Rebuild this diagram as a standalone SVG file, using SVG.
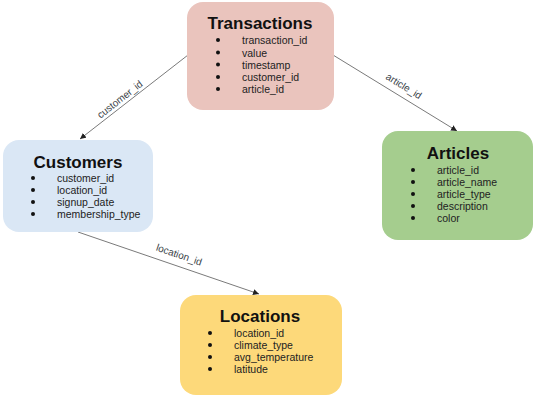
<svg xmlns="http://www.w3.org/2000/svg" width="538" height="400" viewBox="0 0 538 400">
<defs>
<marker id="arr" markerWidth="8" markerHeight="8" refX="6" refY="3" orient="auto" markerUnits="userSpaceOnUse">
<path d="M0,0 L6,3 L0,6 z" fill="#222"/>
</marker>
<style>
.title{font-family:"Liberation Sans",Arial,sans-serif;font-weight:bold;font-size:17px;fill:#111;text-anchor:middle}
.item{font-family:"Liberation Sans",Arial,sans-serif;font-size:10.5px;fill:#222}
.bul{fill:#111}
.edge{stroke:#7a7a7a;stroke-width:1;fill:none;marker-end:url(#arr)}
.lbl{font-family:"Liberation Sans",Arial,sans-serif;font-size:10px;fill:#3a3f48;text-anchor:middle}
</style>
</defs>
<rect width="538" height="400" fill="#fff"/>
<g id="connectors">
<line class="edge" x1="188" y1="55" x2="80" y2="139"/>
<text class="lbl" transform="translate(122,102) rotate(-37.9)">customer_id</text>
<line class="edge" x1="333" y1="55" x2="457" y2="131"/>
<text class="lbl" transform="translate(402,89) rotate(31.5)">article_id</text>
<line class="edge" x1="78" y1="232" x2="259" y2="294"/>
<text class="lbl" transform="translate(178,258) rotate(18.9)">location_id</text>
</g>
<g id="transactions">
<rect x="187" y="2" width="147" height="108" rx="16" fill="#eac4bd"/>
<text class="title" x="260" y="29">Transactions</text>
<g class="bul"><circle cx="218" cy="40" r="2"/><circle cx="218" cy="52.5" r="2"/><circle cx="218" cy="64.5" r="2"/><circle cx="218" cy="77" r="2"/><circle cx="218" cy="89" r="2"/></g>
<text class="item" x="242" y="44">transaction_id</text>
<text class="item" x="242" y="56.5">value</text>
<text class="item" x="242" y="68.5">timestamp</text>
<text class="item" x="242" y="81">customer_id</text>
<text class="item" x="242" y="93">article_id</text>
</g>
<g id="customers">
<rect x="3" y="140" width="150" height="92" rx="16" fill="#dae7f5"/>
<text class="title" x="78" y="168">Customers</text>
<g class="bul"><circle cx="33" cy="178" r="2"/><circle cx="33" cy="190" r="2"/><circle cx="33" cy="202" r="2"/><circle cx="33" cy="214" r="2"/></g>
<text class="item" x="57" y="182">customer_id</text>
<text class="item" x="57" y="194">location_id</text>
<text class="item" x="57" y="206">signup_date</text>
<text class="item" x="57" y="218">membership_type</text>
</g>
<g id="articles">
<rect x="382" y="131" width="151" height="109" rx="16" fill="#a5cd8e"/>
<text class="title" x="458" y="159">Articles</text>
<g class="bul"><circle cx="413" cy="170" r="2"/><circle cx="413" cy="182" r="2"/><circle cx="413" cy="194" r="2"/><circle cx="413" cy="206" r="2"/><circle cx="413" cy="218" r="2"/></g>
<text class="item" x="437" y="174">article_id</text>
<text class="item" x="437" y="186">article_name</text>
<text class="item" x="437" y="198">article_type</text>
<text class="item" x="437" y="210">description</text>
<text class="item" x="437" y="222">color</text>
</g>
<g id="locations">
<rect x="180" y="295" width="162" height="100" rx="16" fill="#fdd97a"/>
<text class="title" x="260" y="322">Locations</text>
<g class="bul"><circle cx="210" cy="333" r="2"/><circle cx="210" cy="345" r="2"/><circle cx="210" cy="357" r="2"/><circle cx="210" cy="369" r="2"/></g>
<text class="item" x="234" y="337">location_id</text>
<text class="item" x="234" y="349">climate_type</text>
<text class="item" x="234" y="361">avg_temperature</text>
<text class="item" x="234" y="373">latitude</text>
</g>
</svg>
